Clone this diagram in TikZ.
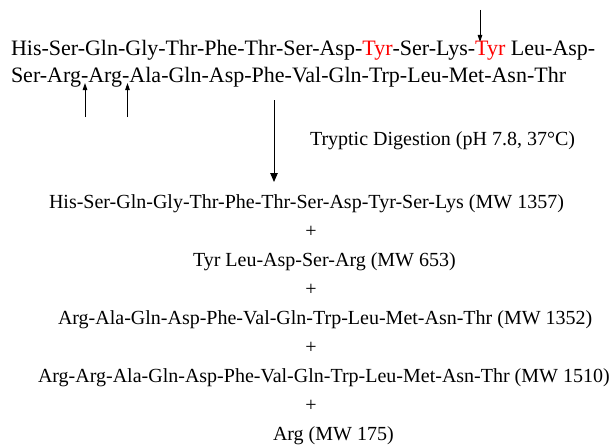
\documentclass[tikz,border=0pt]{standalone}
\usepackage{fontspec}
\setmainfont{Liberation Serif}
\usetikzlibrary{arrows.meta}
\tikzset{
  seqtop/.style={inner sep=0pt, outer sep=0pt, anchor=base west, font=\fontsize{22}{26}\selectfont},
  seqlow/.style={inner sep=0pt, outer sep=0pt, anchor=base west, font=\fontsize{20}{24}\selectfont},
  plusnode/.style={inner sep=0pt, outer sep=0pt, anchor=base, font=\fontsize{20}{24}\selectfont},
  cutarrow/.style={line width=0.9pt, -{Triangle[width=4.5pt,length=7pt]}},
  mainarrow/.style={line width=0.9pt, -{Triangle[width=7.5pt,length=9pt]}},
}
\begin{document}
\begin{tikzpicture}[x=1pt,y=-1pt]
\path[use as bounding box] (0,0) rectangle (615,444);
% original sequence
\node[seqtop] (l1) at (11,56) {His-Ser-Gln-Gly-Thr-Phe-Thr-Ser-Asp-\textcolor{red}{Tyr}-Ser-Lys-\textcolor{red}{Tyr} Leu-Asp-};
\node[seqtop] (l2) at (11,82) {Ser-Arg-Arg-Ala-Gln-Asp-Phe-Val-Gln-Trp-Leu-Met-Asn-Thr};
% cleavage arrows
\coordinate (c1s) at (480,10);
\coordinate (c1e) at (480,42);
\coordinate (c2s) at (85,117);
\coordinate (c2e) at (85,83);
\coordinate (c3s) at (127.5,117);
\coordinate (c3e) at (127.5,83);
\draw[cutarrow] (c1s) -- (c1e);
\draw[cutarrow] (c2s) -- (c2e);
\draw[cutarrow] (c3s) -- (c3e);
% digestion arrow
\coordinate (ms) at (274,100);
\coordinate (me) at (274,182);
\draw[mainarrow] (ms) -- (me);
\node[seqlow] (cond) at (310,145) {Tryptic Digestion (pH 7.8, 37°C)};
% products
\node[seqlow] (p1) at (49,208.5) {His-Ser-Gln-Gly-Thr-Phe-Thr-Ser-Asp-Tyr-Ser-Lys (MW 1357)};
\node[plusnode] (s1) at (311,237.5) {+};
\node[seqlow] (p2) at (193,266.5) {Tyr Leu-Asp-Ser-Arg (MW 653)};
\node[plusnode] (s2) at (311,295.5) {+};
\node[seqlow] (p3) at (58,324.5) {Arg-Ala-Gln-Asp-Phe-Val-Gln-Trp-Leu-Met-Asn-Thr (MW 1352)};
\node[plusnode] (s3) at (311,353.5) {+};
\node[seqlow] (p4) at (38,382.5) {Arg-Arg-Ala-Gln-Asp-Phe-Val-Gln-Trp-Leu-Met-Asn-Thr (MW 1510)};
\node[plusnode] (s4) at (311,411.5) {+};
\node[seqlow] (p5) at (273,440) {Arg (MW 175)};
\end{tikzpicture}
\end{document}
